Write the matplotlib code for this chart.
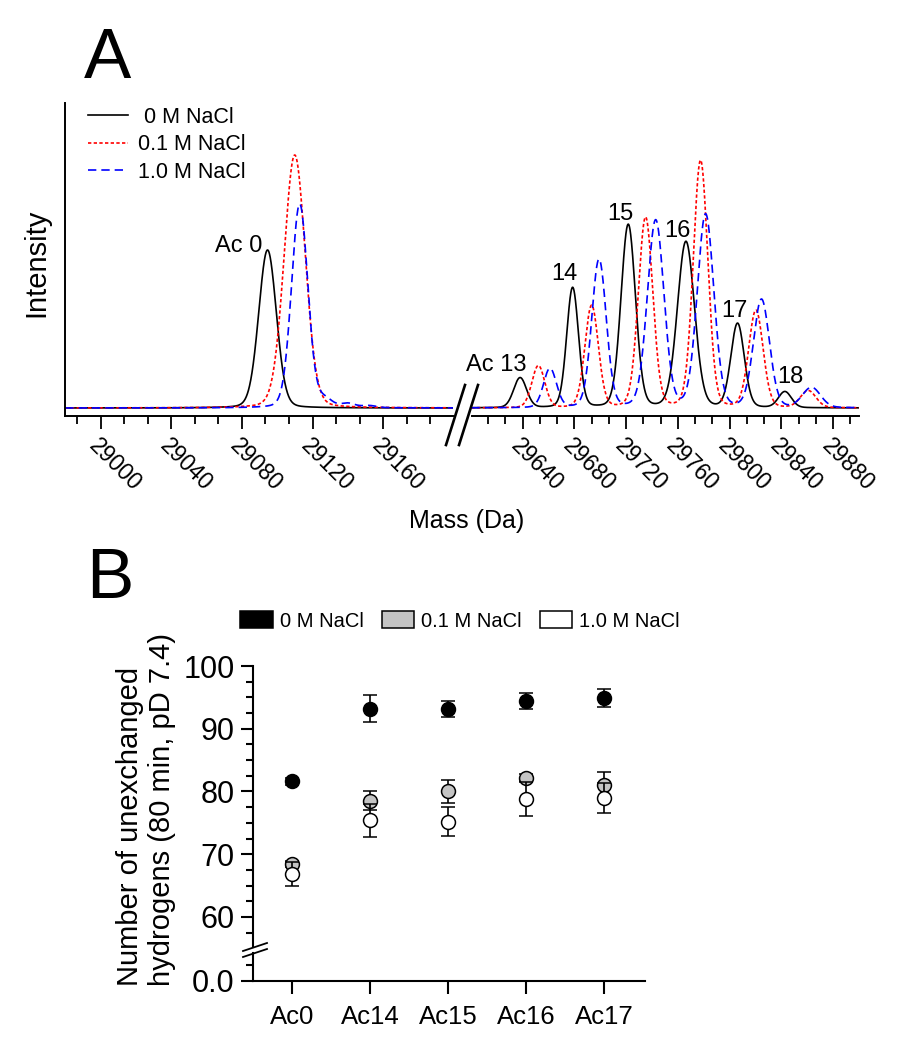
import numpy as np
import matplotlib
matplotlib.use("Agg")
import matplotlib.pyplot as plt
from matplotlib.ticker import FixedLocator, AutoMinorLocator, MultipleLocator
from matplotlib.lines import Line2D
from matplotlib.patches import Patch

plt.rcParams['font.family'] = ['Liberation Sans', 'DejaVu Sans']

# ---------------- Panel A data (peak lists) ----------------
series_names = ["0 M NaCl", "0.1 M NaCl", "1.0 M NaCl"]
legendA_labels = [" 0 M NaCl", "0.1 M NaCl", "1.0 M NaCl"]

black_mass = [29094.5, 29638.0, 29678.6, 29721.6, 29766.2, 29806.1, 29842.7]
black_height = [158, 30, 120, 183, 166, 84, 16]
black_sigma = [5.0, 5.0, 4.6, 5.6, 6.6, 5.2, 5.0]

red_mass = [29109.9, 29652.1, 29693.3, 29735.0, 29777.5, 29820.3, 29860.7]
red_height = [253, 42, 102, 190, 247, 97, 17]
red_sigma = [6.0, 5.0, 5.2, 5.6, 5.6, 5.6, 6.0]

blue_mass = [29112.7, 29127.0, 29140.0, 29152.0, 29661.1, 29699.0, 29742.8, 29781.4, 29824.6, 29863.3]
blue_height = [204, 8, 4, 2, 39, 148, 187, 193, 108, 20]
blue_sigma = [4.6, 4.0, 4.0, 4.0, 5.0, 5.6, 6.4, 6.4, 6.2, 7.0]

peak_labels = ["Ac 0", "Ac 13", "14", "15", "16", "17", "18"]

left_ticks = [29000, 29040, 29080, 29120, 29160]
right_ticks = [29640, 29680, 29720, 29760, 29800, 29840, 29880]
left_range = (28980, 29199.5)
right_range = (29600.5, 29900)

# ---------------- Panel B data ----------------
categories = ["Ac0", "Ac14", "Ac15", "Ac16", "Ac17"]
mean_0M = [81.6, 93.2, 93.2, 94.4, 94.9]
sd_0M = [0.6, 2.1, 1.3, 1.3, 1.4]
mean_01M = [68.4, 78.5, 80.0, 82.2, 81.0]
sd_01M = [0.5, 1.5, 1.9, 0.6, 2.1]
mean_1M = [66.9, 75.4, 75.2, 78.8, 79.0]
sd_1M = [1.9, 2.6, 2.3, 2.7, 2.4]
upper_yticks = [60, 70, 80, 90, 100]
lower_yticks = [0]
lower_yticklabels = ["0.0"]

W, H = 897, 1050
fig = plt.figure(figsize=(W / 100, H / 100), dpi=100)


def fx(x):
    return x / W


def fy(y):
    return 1 - y / H


def profile(x, centers, heights, sigmas, eta=0.12):
    y = np.zeros_like(x)
    for c, h, s in zip(centers, heights, sigmas):
        g = np.exp(-(x - c) ** 2 / (2 * s ** 2))
        gam = s * np.sqrt(2 * np.log(2))
        lor = 1.0 / (1.0 + ((x - c) / gam) ** 2)
        y += h * (eta * lor + (1 - eta) * g)
    return y


mass = np.linspace(28980, 29900, 9201)
curves = [profile(mass, black_mass, black_height, black_sigma),
          profile(mass, red_mass, red_height, red_sigma),
          profile(mass, blue_mass, blue_height, blue_sigma)]
styles = [dict(color='black', lw=1.2, ls='-'),
          dict(color='#ff0000', lw=1.2, ls=(0, (2.0, 1.4))),
          dict(color='#0000ff', lw=1.2, ls=(0, (5.0, 3.0)))]

axA_bottom, axA_top = 415.5, 103
ax1 = fig.add_axes([fx(65.3), fy(axA_bottom), fx(453 - 65.3), (axA_bottom - axA_top) / H])
ax2 = fig.add_axes([fx(471.6), fy(axA_bottom), fx(859 - 471.6), (axA_bottom - axA_top) / H])

handles = []
for ax in (ax1, ax2):
    for cv, st, nm in zip(curves, styles, legendA_labels):
        ln, = ax.plot(mass, cv, label=nm, **st)
        if ax is ax1:
            handles.append(ln)
    ax.set_ylim(-7.5, 305)
    ax.tick_params(axis='y', left=False, labelleft=False)
    for s in ('top', 'right'):
        ax.spines[s].set_visible(False)
    ax.spines['bottom'].set_linewidth(1.4)
    ax.tick_params(axis='x', which='major', direction='out', length=9.4, width=1.3,
                   labelsize=16.5, pad=4)
    ax.tick_params(axis='x', which='minor', direction='out', length=5.8, width=1.3)
ax2.spines['left'].set_visible(False)
ax1.spines['left'].set_linewidth(1.4)

ax1.set_xlim(*left_range)
ax2.set_xlim(*right_range)
ax1.xaxis.set_major_locator(FixedLocator(left_ticks))
ax2.xaxis.set_major_locator(FixedLocator(right_ticks))
ax1.xaxis.set_minor_locator(AutoMinorLocator(3))
ax2.xaxis.set_minor_locator(AutoMinorLocator(3))
for ax, tk in ((ax1, left_ticks), (ax2, right_ticks)):
    ax.set_xticks(tk)
    ax.set_xticklabels([str(t) for t in tk], rotation=-45, ha='left', va='top',
                       rotation_mode='anchor')

# peak annotations (offsets in pixels: layout only)
label_offsets = [(-5, -2), (6, 7), (-8, 8), (-8, 5), (-8.5, 5), (-3, 7), (5, 9)]
label_ha = ['right', 'right', 'center', 'center', 'center', 'center', 'center']
for lab, m, h, off, ha in zip(peak_labels, black_mass, black_height, label_offsets, label_ha):
    ax = ax1 if m < 29200 else ax2
    ax.annotate(lab, xy=(m, h), xytext=off, textcoords='offset pixels',
                ha=ha, va='baseline', fontsize=17)

fig.legend(handles=handles, labels=legendA_labels, loc='upper left',
           bbox_to_anchor=(fx(88), fy(107)), frameon=False, fontsize=15.5,
           handlelength=1.85, handletextpad=0.45, labelspacing=0.3,
           borderpad=0, borderaxespad=0)

# axis break marks on panel A x axis
for x0 in (446, 459):
    fig.add_artist(Line2D([fx(x0), fx(x0 + 19)], [fy(445), fy(385)], color='black',
                          lw=1.9, transform=fig.transFigure))

fig.text(fx(36), fy(263), "Intensity", rotation=90, ha='center', va='center', fontsize=21)
fig.text(fx(467), fy(528), "Mass (Da)", ha='center', va='baseline', fontsize=18)
fig.text(fx(84), fy(78), "A", fontsize=51, ha='left', va='baseline')
fig.text(fx(86), fy(598), "B", fontsize=51, ha='left', va='baseline')

# ---------------- Panel B ----------------
xpos = np.arange(len(categories))
up_top, up_bot = 666, 947
lo_top, lo_bot = 953, 981
px_per_unit = (917 - 666) / 40.0
axU = fig.add_axes([fx(253.3), fy(up_bot), fx(645 - 253.3), (up_bot - up_top) / H])
axL = fig.add_axes([fx(253.3), fy(lo_bot), fx(645 - 253.3), (lo_bot - lo_top) / H])

face_cols = ['black', '#c4c4c4', 'white']
for z, (mu, sd, fc) in enumerate(zip([mean_0M, mean_01M, mean_1M],
                                     [sd_0M, sd_01M, sd_1M], face_cols)):
    axU.errorbar(xpos, mu, yerr=sd, fmt='o', ms=10, mfc=fc, mec='black', mew=1.1,
                 ecolor='black', elinewidth=1.2, capsize=4.7, capthick=1.2,
                 zorder=3 + z)

axU.set_ylim(60 - (up_bot - 917) / px_per_unit, 100)
axL.set_ylim(0, (lo_bot - lo_top) / px_per_unit)
for ax in (axU, axL):
    ax.set_xlim(-0.5, 4.52)
    for s in ('top', 'right'):
        ax.spines[s].set_visible(False)
    ax.spines['left'].set_linewidth(1.5)
    ax.tick_params(axis='y', which='major', direction='out', length=8.6, width=1.5,
                   labelsize=22, pad=5)
    ax.tick_params(axis='y', which='minor', direction='out', length=5, width=1.5)
    ax.yaxis.set_minor_locator(MultipleLocator(2.5))

axU.spines['bottom'].set_visible(False)
axU.tick_params(axis='x', bottom=False, labelbottom=False)
axU.yaxis.set_major_locator(FixedLocator(upper_yticks))
axU.set_yticklabels([str(t) for t in upper_yticks])

axL.spines['bottom'].set_linewidth(1.5)
axL.set_yticks(lower_yticks)
axL.set_yticklabels(lower_yticklabels)
axL.set_xticks(xpos)
axL.set_xticklabels(categories)
axL.tick_params(axis='x', direction='out', length=9.4, width=1.5, labelsize=18.5, pad=8)

# y-axis break mark on panel B
for y0 in (951, 957):
    fig.add_artist(Line2D([fx(243), fx(267)], [fy(y0), fy(y0 - 8)], color='black',
                          lw=1.3, transform=fig.transFigure))

fig.text(fx(146), fy(986), "Number of unexchanged\nhydrogens (80 min, pD 7.4)",
         rotation=90, ha='center', va='bottom', multialignment='left', fontsize=21)

legend_handles = [Patch(facecolor=c, edgecolor='black', linewidth=1.1) for c in face_cols]
fig.legend(handles=legend_handles, labels=series_names, loc='center',
           bbox_to_anchor=(fx(460), fy(621)), ncol=3, frameon=False, fontsize=14.5,
           handlelength=1.6, handleheight=0.85, handletextpad=0.35, columnspacing=0.9,
           borderpad=0)

fig.savefig("out.png", dpi=100)
